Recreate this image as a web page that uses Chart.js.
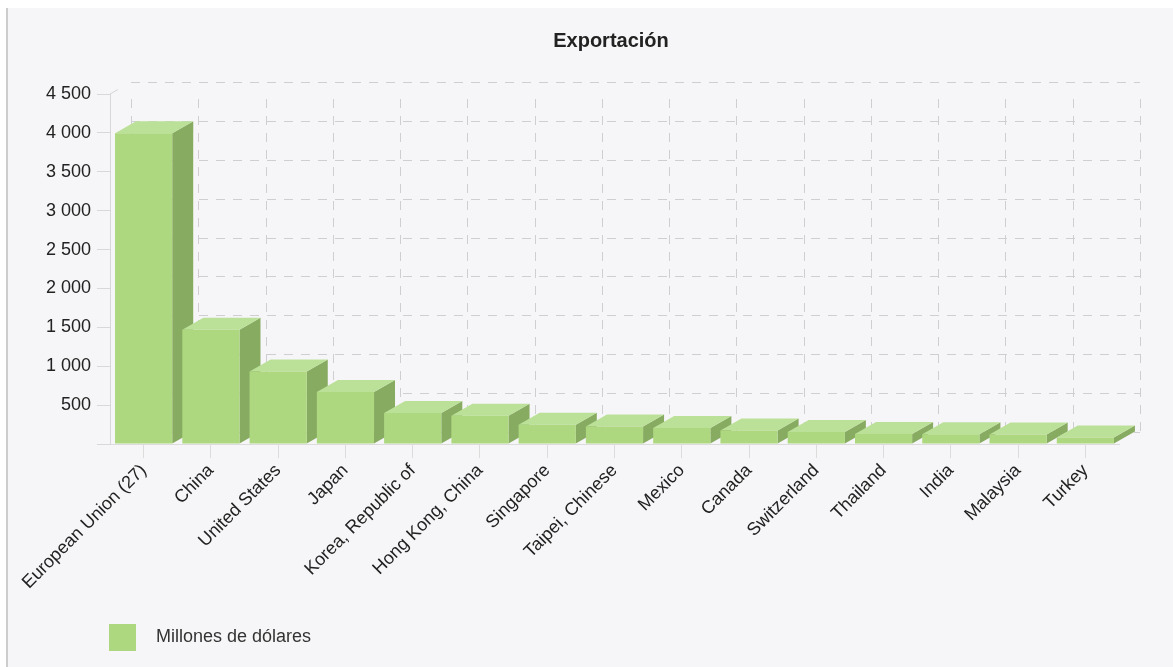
<!DOCTYPE html>
<html>
<head>
<meta charset="utf-8">
<title>Exportación</title>
<script src="https://cdn.jsdelivr.net/npm/chart.js@4/dist/chart.umd.min.js"></script>
<style>
  body { margin: 0; background: #fff; }
  #panel {
    position: absolute; left: 6px; top: 8px; right: 0; bottom: 0;
    background: #f6f6f8; border-left: 2px solid #cdcdcd;
  }
  #wrap { position: absolute; left: 0; top: 0; width: 1173px; height: 667px; }
</style>
</head>
<body>
<div id="panel"></div>
<div id="wrap"><canvas id="exports"></canvas></div>
<script>
const countries = [
  "European Union (27)", "China", "United States", "Japan", "Korea, Republic of",
  "Hong Kong, China", "Singapore", "Taipei, Chinese", "Mexico", "Canada",
  "Switzerland", "Thailand", "India", "Malaysia", "Turkey"
];
const exportValues = [3995, 1470, 933, 668, 398, 363, 247, 225, 205, 175, 153, 128, 124, 121, 84];
const yTicks = [0, 500, 1000, 1500, 2000, 2500, 3000, 3500, 4000, 4500];
const seriesName = "Millones de dólares";

const FRONT = "#add87f";
const TOP = "#bbe098";
const SIDE = "#88ab62";
const DX = 21, DY = 12;
const FONT = "'Liberation Sans', Arial, sans-serif";

function fmt(v) {
  return String(v).replace(/\B(?=(\d{3})+(?!\d))/g, " ");
}

// square swatch for the legend
const swatch = document.createElement("canvas");
swatch.width = 27;
swatch.height = 27;
const sctx = swatch.getContext("2d");
sctx.fillStyle = FRONT;
sctx.fillRect(0, 0, 27, 27);

// back wall grid + side/top faces of each bar, drawn behind the front faces
const bars3d = {
  id: "bars3d",
  afterLayout(chart) {
    chart.titleBlock.left += 31.5;
    chart.titleBlock.right += 31.5;
    chart.legend.left += 48;
    chart.legend.right += 48;
  },
  beforeDatasetsDraw(chart) {
    const { ctx, chartArea: ca, scales: { x, y } } = chart;
    ctx.save();
    ctx.strokeStyle = "#cfcfd2";
    ctx.lineWidth = 1;
    ctx.setLineDash([9, 8]);
    yTicks.forEach(v => {
      const py = Math.round(y.getPixelForValue(v) - DY) + 0.5;
      ctx.beginPath();
      ctx.moveTo(ca.left + DX, py);
      ctx.lineTo(ca.right + DX, py);
      ctx.stroke();
    });
    const half = (x.getPixelForValue(1) - x.getPixelForValue(0)) / 2;
    for (let i = 0; i <= countries.length; i++) {
      const px = Math.round(x.getPixelForValue(i) - half + DX) + 0.5;
      ctx.beginPath();
      ctx.moveTo(px, ca.top - DY + 17);
      ctx.lineTo(px, ca.bottom - DY);
      ctx.stroke();
    }
    ctx.setLineDash([]);
    ctx.strokeStyle = "#d4d4d6";
    ctx.beginPath();
    ctx.moveTo(ca.left, ca.top);
    ctx.lineTo(ca.left + 8, ca.top - 4.5);
    ctx.stroke();

    const meta = chart.getDatasetMeta(0);
    meta.data.forEach(bar => {
      const l = bar.x - bar.width / 2, r = bar.x + bar.width / 2;
      const t = bar.y, b = bar.base;
      ctx.fillStyle = SIDE;
      ctx.beginPath();
      ctx.moveTo(r, t);
      ctx.lineTo(r + DX, t - DY);
      ctx.lineTo(r + DX, b - DY);
      ctx.lineTo(r, b);
      ctx.closePath();
      ctx.fill();
      ctx.fillStyle = TOP;
      ctx.beginPath();
      ctx.moveTo(l, t);
      ctx.lineTo(l + DX, t - DY);
      ctx.lineTo(r + DX, t - DY);
      ctx.lineTo(r, t);
      ctx.closePath();
      ctx.fill();
    });
    ctx.restore();
  }
};

new Chart(document.getElementById("exports"), {
  type: "bar",
  data: {
    labels: countries,
    datasets: [{
      label: seriesName,
      data: exportValues,
      backgroundColor: FRONT,
      borderWidth: 0,
      barPercentage: 0.85,
      categoryPercentage: 1
    }]
  },
  options: {
    responsive: true,
    maintainAspectRatio: false,
    animation: false,
    layout: { padding: { left: 40, right: 54, top: 0, bottom: 10.5 } },
    plugins: {
      title: {
        display: true,
        text: "Exportación",
        color: "#222",
        font: { family: FONT, size: 20, weight: "bold" },
        padding: { top: 29, bottom: 41 }
      },
      legend: {
        position: "bottom",
        align: "start",
        labels: {
          usePointStyle: true,
          pointStyle: swatch,
          pointStyleWidth: 49,
          padding: 10,
          color: "#333",
          font: { family: FONT, size: 18 }
        }
      },
      tooltip: { enabled: false }
    },
    scales: {
      x: {
        grid: { offset: false, drawOnChartArea: false, tickLength: 14, color: "#dcdcdc" },
        border: { color: "#dcdcdc" },
        ticks: {
          maxRotation: 45, minRotation: 45, autoSkip: false, padding: 2,
          color: "#222", font: { family: FONT, size: 18 }
        },
        afterFit(scale) { scale.height = 174.5; }
      },
      y: {
        min: 0,
        max: 4500,
        afterBuildTicks(scale) { scale.ticks = yTicks.map(v => ({ value: v })); },
        grid: { drawOnChartArea: false, tickLength: 13, color: "#d8d8d8" },
        border: { color: "#d8d8d8" },
        ticks: {
          padding: 6,
          color: "#222",
          font: { family: FONT, size: 18 },
          callback: v => (v === 0 ? "" : fmt(v))
        },
        afterFit(scale) { scale.width = 70; }
      }
    }
  },
  plugins: [bars3d]
});
</script>
</body>
</html>
